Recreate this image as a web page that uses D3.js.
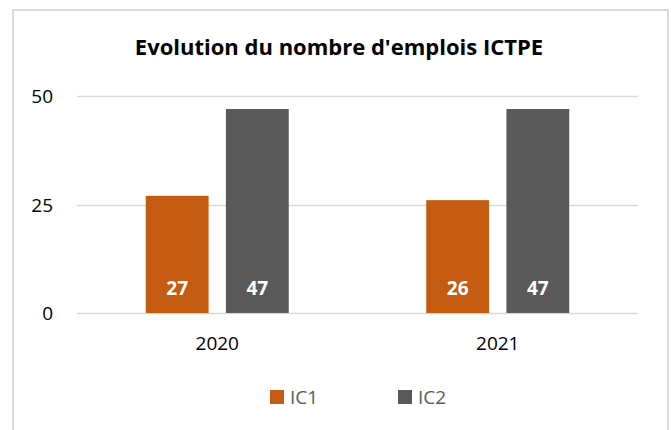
<!DOCTYPE html>
<html>
<head>
<meta charset="utf-8">
<script src="https://cdn.jsdelivr.net/npm/d3@7"></script>
<style>
  body { margin: 0; background: #fff; }
  text { font-family: "Open Sans", "Liberation Sans", sans-serif; }
</style>
</head>
<body>
<div id="chart"></div>
<script>
const years = ["2020", "2021"];
const seriesNames = ["IC1", "IC2"];
const ic1 = [27, 26];
const ic2 = [47, 47];
const yTicks = [0, 25, 50];
const colors = ["#C55A11", "#595959"];

const width = 671, height = 430;
const margin = { left: 77, right: 33, top: 96, bottom: 117 };

const rows = years.map((y, i) => ({ year: y, values: [ic1[i], ic2[i]] }));

const svg = d3.select("#chart")
  .append("svg")
  .attr("width", width)
  .attr("height", height);

// chart frame
svg.append("rect")
  .attr("x", 13).attr("y", 10)
  .attr("width", 655).attr("height", 430)
  .attr("fill", "none")
  .attr("stroke", "#d9d9d9")
  .attr("stroke-width", 2);

const x = d3.scaleBand()
  .domain(years)
  .range([margin.left, width - margin.right]);

const xInner = d3.scaleBand()
  .domain(seriesNames)
  .range([0, 143])
  .paddingInner(0.216);

const y = d3.scaleLinear()
  .domain([0, 50])
  .range([height - margin.bottom, margin.top]);

// gridlines
svg.append("g")
  .selectAll("line")
  .data(yTicks)
  .join("line")
  .attr("x1", margin.left)
  .attr("x2", width - margin.right)
  .attr("y1", d => Math.round(y(d)) + 0.5)
  .attr("y2", d => Math.round(y(d)) + 0.5)
  .attr("stroke", "#d9d9d9")
  .attr("stroke-width", 1.5);

// y labels
svg.append("g")
  .attr("font-size", 19)
  .attr("text-anchor", "end")
  .selectAll("text")
  .data(yTicks)
  .join("text")
  .attr("x", 53)
  .attr("y", d => y(d) + 7)
  .attr("fill", "#000")
  .text(d => d);

// bars
const groups = svg.append("g")
  .selectAll("g")
  .data(rows)
  .join("g")
  .attr("transform", d => `translate(${x(d.year) + (x.bandwidth() - 143) / 2},0)`);

groups.selectAll("rect")
  .data(d => d.values.map((v, i) => ({ key: seriesNames[i], value: v })))
  .join("rect")
  .attr("x", d => xInner(d.key))
  .attr("y", d => y(d.value))
  .attr("width", xInner.bandwidth())
  .attr("height", d => y(0) - y(d.value))
  .attr("fill", (d, i) => colors[i]);

groups.selectAll("text")
  .data(d => d.values.map((v, i) => ({ key: seriesNames[i], value: v })))
  .join("text")
  .attr("x", d => xInner(d.key) + xInner.bandwidth() / 2)
  .attr("y", 295)
  .attr("text-anchor", "middle")
  .attr("font-size", 19)
  .attr("font-weight", "bold")
  .attr("fill", "#fff")
  .text(d => d.value);

// x labels
svg.append("g")
  .attr("font-size", 19)
  .attr("text-anchor", "middle")
  .selectAll("text")
  .data(years)
  .join("text")
  .attr("x", d => x(d) + x.bandwidth() / 2)
  .attr("y", 350)
  .text(d => d);

// title
svg.append("text")
  .attr("x", 339)
  .attr("y", 55)
  .attr("text-anchor", "middle")
  .attr("font-size", 22)
  .attr("font-weight", "bold")
  .attr("fill", "#000")
  .text("Evolution du nombre d'emplois ICTPE");

// legend
const legendX = [270, 398];
const legend = svg.append("g")
  .selectAll("g")
  .data(seriesNames)
  .join("g")
  .attr("transform", (d, i) => `translate(${legendX[i]},390)`);

legend.append("rect")
  .attr("width", 14).attr("height", 14)
  .attr("fill", (d, i) => colors[i]);

legend.append("text")
  .attr("x", 20)
  .attr("y", 14)
  .attr("font-size", 19)
  .attr("fill", "#595959")
  .text(d => d);
</script>
</body>
</html>
